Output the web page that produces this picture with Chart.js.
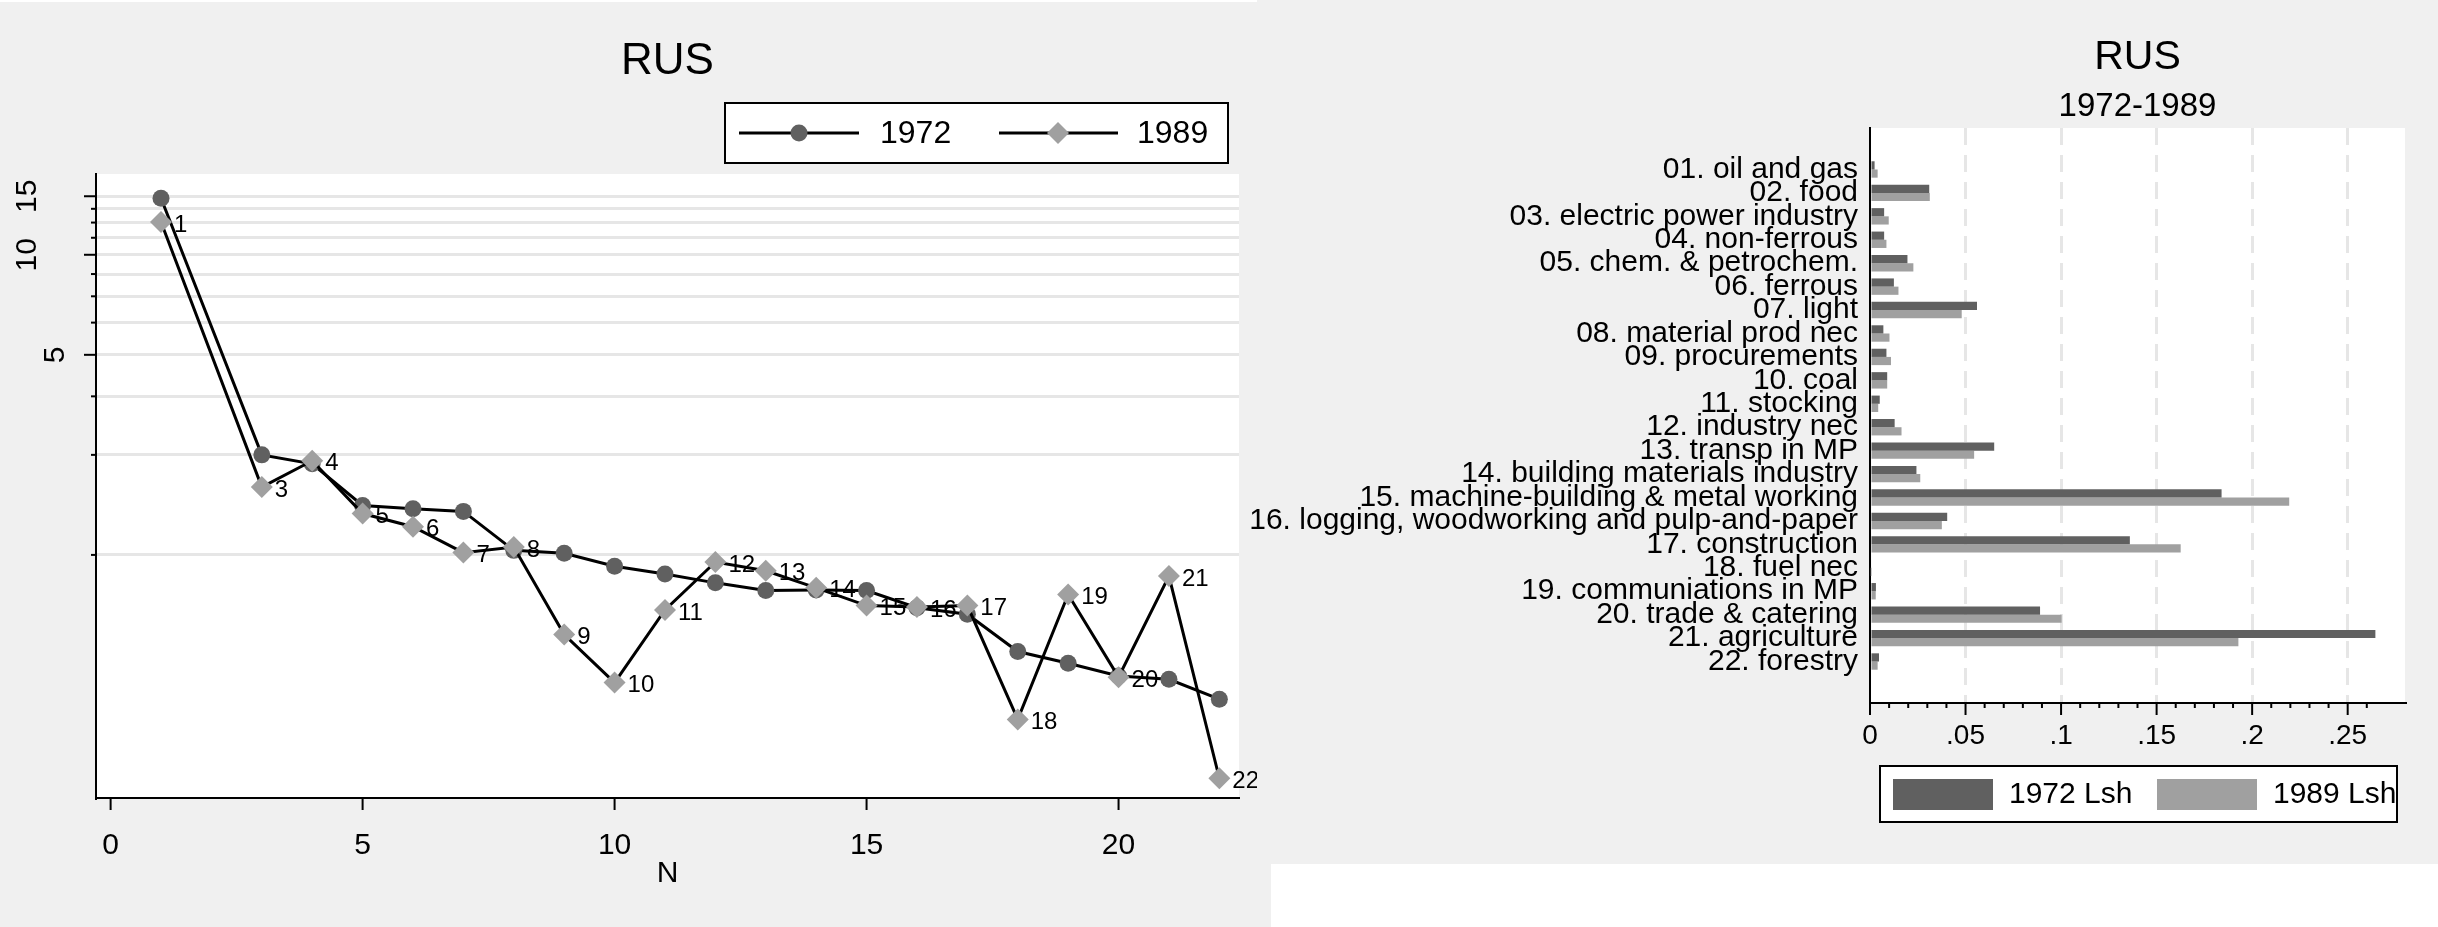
<!DOCTYPE html>
<html>
<head>
<meta charset="utf-8">
<script src="https://cdn.jsdelivr.net/npm/chart.js@4.4.1/dist/chart.umd.min.js"></script>
<style>
    html, body { margin: 0; padding: 0; background: #fff; width: 2438px; height: 927px; overflow: hidden; }
    #left { position: absolute; left: 0; top: 2px; width: 1271px; height: 925px; background: #f0f0f0; }
    #right { position: absolute; left: 1257px; top: 0; width: 1181px; height: 864px; background: #f0f0f0; }
    canvas { position: absolute; left: 0; top: 0; }
    #shareChart { left: -20px; }
</style>
</head>
<body>
<div id="left"><canvas id="rankChart" width="1257" height="925"></canvas></div>
<div id="right"><canvas id="shareChart" width="1201" height="864"></canvas></div>
<script>
const FONT = "'Liberation Sans', Arial, sans-serif";
const DARK = '#606060';
const LIGHT = '#a0a0a0';
const GRID = '#e6e6e6';

// left panel: N on x, log scale on y
const N = [1, 3, 4, 5, 6, 7, 8, 9, 10, 11, 12, 13, 14, 15, 16, 17, 18, 19, 20, 21, 22];
const rus1972 = [14.8, 2.50, 2.35, 1.76, 1.72, 1.69, 1.29, 1.265, 1.155, 1.095, 1.03,
                 0.977, 0.98, 0.977, 0.867, 0.829, 0.64, 0.59, 0.54, 0.528, 0.46];
const rus1989 = [12.55, 2.0, 2.40, 1.665, 1.52, 1.27, 1.32, 0.72, 0.516, 0.854, 1.19,
                 1.12, 0.995, 0.88, 0.871, 0.88, 0.40, 0.95, 0.536, 1.08, 0.266];
const xTicks = [0, 5, 10, 15, 20];
const yLabelValues = [5, 10, 15];
const yGridValues = [1.25, 2.5, 3.75, 5, 6.25, 7.5, 8.75, 10, 11.25, 12.5, 13.75, 15];

// right panel: labour shares by sector
const sectors = [
    '01. oil and gas', '02. food', '03. electric power industry', '04. non-ferrous',
    '05. chem. & petrochem.', '06. ferrous', '07. light', '08. material prod nec',
    '09. procurements', '10. coal', '11. stocking', '12. industry nec', '13. transp in MP',
    '14. building materials industry', '15. machine-building & metal working',
    '16. logging, woodworking and pulp-and-paper', '17. construction', '18. fuel nec',
    '19. communiations in MP', '20. trade & catering', '21. agriculture', '22. forestry'
];
const lsh1972 = [0.0024, 0.031, 0.0074, 0.0074, 0.0196, 0.0125, 0.056, 0.007, 0.0086, 0.009, 0.0051,
                 0.0129, 0.065, 0.0243, 0.184, 0.0404, 0.136, 0.0008, 0.0031, 0.089, 0.2645, 0.0047];
const lsh1989 = [0.004, 0.0313, 0.0098, 0.0086, 0.0227, 0.0149, 0.048, 0.0102, 0.011, 0.009, 0.0043,
                 0.0165, 0.0545, 0.0263, 0.2194, 0.0376, 0.1626, 0.0004, 0.003, 0.1003, 0.1928, 0.004];
const shareTicks = Array.from({ length: 27 }, (_, k) => k / 100);

function line(ctx, x1, y1, x2, y2) {
    ctx.beginPath();
    ctx.moveTo(x1, y1);
    ctx.lineTo(x2, y2);
    ctx.stroke();
}

function marker(ctx, style, x, y, r, color) {
    ctx.fillStyle = color;
    ctx.beginPath();
    if (style === 'rectRot') {
        ctx.moveTo(x - r, y);
        ctx.lineTo(x, y - r);
        ctx.lineTo(x + r, y);
        ctx.lineTo(x, y + r);
        ctx.closePath();
    } else {
        ctx.arc(x, y, r, 0, Math.PI * 2);
    }
    ctx.fill();
}

const plotBg = {
    id: 'plotBg',
    beforeDraw(chart) {
        const { ctx, chartArea: a } = chart;
        ctx.save();
        ctx.fillStyle = '#fff';
        ctx.fillRect(a.left, a.top, a.right - a.left, a.bottom - a.top);
        ctx.restore();
    }
};

const rankDecor = {
    id: 'rankDecor',
    afterDraw(chart) {
        const { ctx, chartArea: a, scales: { x, y } } = chart;
        const cx = (a.left + a.right) / 2;
        ctx.save();
        ctx.strokeStyle = '#000';
        ctx.lineWidth = 2;
        yGridValues.forEach(v => {
            const py = y.getPixelForValue(v);
            const len = yLabelValues.includes(v) ? 12 : 5;
            line(ctx, a.left - len, py, a.left, py);
        });
        xTicks.forEach(v => {
            const px = x.getPixelForValue(v);
            line(ctx, px, a.bottom, px, a.bottom + 12);
        });

        ctx.fillStyle = '#000';
        ctx.textAlign = 'center';
        ctx.textBaseline = 'middle';
        ctx.font = `30px ${FONT}`;
        yLabelValues.forEach(v => {
            const txt = String(v);
            ctx.save();
            ctx.translate(txt.length > 1 ? 28 : 56, y.getPixelForValue(v));
            ctx.rotate(-Math.PI / 2);
            ctx.fillText(txt, 0, 0);
            ctx.restore();
        });
        ctx.fillText('N', cx, 872);

        // labels beside the 1989 diamonds
        ctx.textAlign = 'left';
        ctx.font = `24px ${FONT}`;
        chart.getDatasetMeta(1).data.forEach((pt, i) => {
            ctx.fillText(String(N[i]), pt.x + 13, pt.y + 3);
        });

        ctx.textAlign = 'center';
        ctx.font = `44px ${FONT}`;
        ctx.fillText('RUS', cx, 60);

        // legend
        const ds = chart.data.datasets;
        ctx.fillStyle = '#fff';
        ctx.fillRect(725, 101, 503, 60);
        ctx.strokeRect(725, 101, 503, 60);
        [[739, 859, 799, 880], [999, 1118, 1058, 1137]].forEach(([x1, x2, mx, tx], i) => {
            ctx.lineWidth = 3;
            ctx.strokeStyle = '#000';
            line(ctx, x1, 131, x2, 131);
            marker(ctx, ds[i].pointStyle, mx, 131, ds[i].pointRadius, ds[i].pointBackgroundColor);
            ctx.fillStyle = '#000';
            ctx.textAlign = 'left';
            ctx.font = `32px ${FONT}`;
            ctx.fillText(ds[i].label, tx, 132);
        });
        ctx.restore();
    }
};

const shareDecor = {
    id: 'shareDecor',
    afterDraw(chart) {
        const { ctx, chartArea: a, scales: { x } } = chart;
        const cx = (a.left + a.right) / 2;
        ctx.save();
        ctx.strokeStyle = '#000';
        ctx.lineWidth = 2;
        shareTicks.forEach((v, k) => {
            const px = x.getPixelForValue(v);
            line(ctx, px, a.bottom, px, a.bottom + (k % 5 === 0 ? 12 : 5));
        });

        ctx.fillStyle = '#000';
        ctx.textAlign = 'center';
        ctx.textBaseline = 'middle';
        ctx.font = `41px ${FONT}`;
        ctx.fillText('RUS', cx, 58);
        ctx.font = `33px ${FONT}`;
        ctx.fillText('1972-1989', cx, 107);

        const ds = chart.data.datasets;
        ctx.fillStyle = '#fff';
        ctx.fillRect(643, 766, 517, 56);
        ctx.strokeRect(643, 766, 517, 56);
        [[656, 772], [920, 1036]].forEach(([sx, tx], i) => {
            ctx.fillStyle = ds[i].backgroundColor;
            ctx.fillRect(sx, 779, 100, 31);
            ctx.fillStyle = '#000';
            ctx.textAlign = 'left';
            ctx.font = `30px ${FONT}`;
            ctx.fillText(ds[i].label, tx, 795);
        });
        ctx.restore();
    }
};

new Chart(document.getElementById('rankChart'), {
    type: 'line',
    data: {
        datasets: [
            {
                label: '1972',
                data: N.map((n, i) => ({ x: n, y: rus1972[i] })),
                borderColor: '#000',
                borderWidth: 3,
                pointStyle: 'circle',
                pointRadius: 8.5,
                pointBackgroundColor: DARK,
                pointBorderWidth: 0,
                order: 1
            },
            {
                label: '1989',
                data: N.map((n, i) => ({ x: n, y: rus1989[i] })),
                borderColor: '#000',
                borderWidth: 3,
                pointStyle: 'rectRot',
                pointRadius: 11,
                pointBackgroundColor: LIGHT,
                pointBorderWidth: 0,
                order: 0
            }
        ]
    },
    options: {
        responsive: false,
        animation: false,
        devicePixelRatio: 1,
        layout: { autoPadding: false, padding: { top: 172, right: 18, bottom: 0, left: 0 } },
        plugins: { legend: { display: false }, tooltip: { enabled: false } },
        scales: {
            x: {
                type: 'linear',
                min: -0.29,
                max: 22.39,
                afterBuildTicks: s => { s.ticks = xTicks.map(v => ({ value: v })); },
                afterFit: s => { s.height = 129; },
                grid: { display: false, drawTicks: false },
                border: { display: true, color: '#000', width: 2 },
                ticks: { color: '#000', font: { family: FONT, size: 30 }, padding: 30, maxRotation: 0 }
            },
            y: {
                type: 'logarithmic',
                min: 0.232,
                max: 17.5,
                afterBuildTicks: s => { s.ticks = yGridValues.map(v => ({ value: v })); },
                afterFit: s => { s.width = 96; },
                grid: { color: GRID, lineWidth: 3, drawTicks: false },
                border: { display: true, color: '#000', width: 2 },
                ticks: { display: false }
            }
        }
    },
    plugins: [plotBg, rankDecor]
});

new Chart(document.getElementById('shareChart'), {
    type: 'bar',
    data: {
        datasets: [
            {
                label: '1972 Lsh',
                data: lsh1972.map((v, i) => ({ x: v, y: i + 1 })),
                backgroundColor: DARK,
                categoryPercentage: 0.7,
                barPercentage: 1
            },
            {
                label: '1989 Lsh',
                data: lsh1989.map((v, i) => ({ x: v, y: i + 1 })),
                backgroundColor: LIGHT,
                categoryPercentage: 0.7,
                barPercentage: 1
            }
        ]
    },
    options: {
        indexAxis: 'y',
        responsive: false,
        animation: false,
        devicePixelRatio: 1,
        layout: { autoPadding: false, padding: { top: 128, right: 33, bottom: 0, left: 0 } },
        plugins: { legend: { display: false }, tooltip: { enabled: false } },
        scales: {
            y: {
                type: 'linear',
                reverse: true,
                offset: false,
                min: -0.77,
                max: 23.77,
                afterBuildTicks: s => { s.ticks = sectors.map((_, i) => ({ value: i + 1 })); },
                afterFit: s => { s.width = 633; },
                grid: { display: false, drawTicks: false, offset: false },
                border: { display: true, color: '#000', width: 2 },
                ticks: {
                    autoSkip: false,
                    color: '#000',
                    font: { family: FONT, size: 30 },
                    padding: 12,
                    callback: v => sectors[v - 1]
                }
            },
            x: {
                type: 'linear',
                min: 0,
                max: 0.28,
                afterBuildTicks: s => { s.ticks = shareTicks.map(v => ({ value: v })); },
                afterFit: s => { s.height = 161; },
                grid: {
                    drawTicks: false,
                    lineWidth: 3,
                    color: c => {
                        const k = Math.round(c.tick ? c.tick.value * 100 : 0);
                        return (k > 0 && k % 5 === 0) ? GRID : 'rgba(0,0,0,0)';
                    }
                },
                border: { display: true, color: '#000', width: 2, dash: [17, 10] },
                ticks: {
                    autoSkip: false,
                    maxRotation: 0,
                    color: '#000',
                    font: { family: FONT, size: 28 },
                    padding: 16,
                    callback: v => {
                        const k = Math.round(v * 100);
                        if (k % 5 !== 0) return '';
                        return k === 0 ? '0' : String(k / 100).replace(/^0/, '');
                    }
                }
            }
        }
    },
    plugins: [plotBg, shareDecor]
});
</script>
</body>
</html>
